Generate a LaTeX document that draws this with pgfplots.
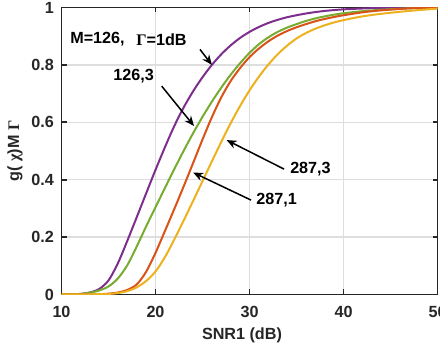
\documentclass[border=0pt]{standalone}
\usepackage{fontspec}
\setmainfont{Liberation Sans}
\newfontfamily\greekserif{Liberation Serif}
\usepackage{pgfplots}
\pgfplotsset{compat=1.18}
\usetikzlibrary{arrows.meta}

\definecolor{mpurple}{RGB}{126,47,142}
\definecolor{mgreen}{RGB}{119,172,48}
\definecolor{mred}{RGB}{217,83,25}
\definecolor{myellow}{RGB}{237,177,32}
\definecolor{maxis}{RGB}{38,38,38}
\definecolor{mgrid}{RGB}{222,222,222}

\begin{document}
\begin{tikzpicture}[font=\fontsize{9.7}{12}\selectfont\bfseries]
\path[use as bounding box] (-36.9pt,-33.9pt) rectangle (227.1pt,176.7pt);
\begin{axis}[
  scale only axis,
  width=225.6pt, height=172.2pt,
  xmin=10, xmax=50, ymin=0, ymax=1,
  xtick={10,20,30,40,50},
  ytick={0,0.2,0.4,0.6,0.8,1},
  /pgf/number format/assume math mode=true,
  ticklabel style={font=\fontsize{9.7}{12}\selectfont\bfseries, text=maxis},
  xticklabel style={yshift=-3.5pt},
  yticklabel style={xshift=-1pt},
  grid=major,
  major grid style={color=mgrid, line width=0.9pt},
  axis line style={color=maxis, line width=1pt},
  tick style={color=maxis, line width=1pt},
  tick align=inside,
  major tick length=3pt,
  xlabel={SNR1 (dB)},
  ylabel={g( {\greekserif χ})M {\greekserif Γ}},
  xlabel style={at={(axis description cs:0.48,-0.141)}, anchor=center, text=maxis},
  ylabel style={at={(axis description cs:-0.124,0.5)}, anchor=center, text=maxis},
  every axis plot/.append style={line width=1.2pt, smooth},
]
% M=126, Gamma=1 dB
\addplot[mpurple] coordinates {
 (10,0) (11,0.0005) (12,0.002) (13,0.007) (14,0.019) (15,0.049) (16,0.109)
 (17,0.187) (18,0.269) (19,0.352) (20,0.434) (21,0.513) (22,0.587)
 (23,0.652) (24,0.708) (25,0.757) (26,0.800) (27,0.837) (28,0.868)
 (29,0.894) (30,0.915) (31,0.932) (32,0.946) (33,0.957) (34,0.966)
 (35,0.973) (36,0.979) (37,0.984) (38,0.988) (39,0.991) (40,0.9935)
 (42,0.9965) (44,0.9983) (47,0.9995) (50,1)};
% M=126, Gamma=3 dB
\addplot[mgreen] coordinates {
 (10,0) (11,0.0008) (12,0.002) (13,0.006) (14,0.014) (15,0.028) (16,0.056)
 (17,0.102) (18,0.167) (19,0.237) (20,0.304) (21,0.371) (22,0.437)
 (23,0.501) (24,0.562) (25,0.619) (26,0.672) (27,0.721) (28,0.766)
 (29,0.806) (30,0.842) (31,0.872) (32,0.896) (33,0.915) (34,0.93)
 (35,0.942) (36,0.953) (37,0.962) (38,0.969) (39,0.975) (40,0.98)
 (42,0.987) (44,0.992) (47,0.997) (50,1)};
% M=287, Gamma=1 dB
\addplot[mred] coordinates {
 (10,0) (13,0.0003) (14,0.001) (15,0.003) (16,0.007) (17,0.016) (18,0.035)
 (19,0.079) (20,0.145) (21,0.221) (22,0.298) (23,0.377) (24,0.458)
 (25,0.54) (26,0.618) (27,0.687) (28,0.744) (29,0.789) (30,0.827)
 (31,0.857) (32,0.882) (33,0.902) (34,0.918) (35,0.931) (36,0.942)
 (37,0.952) (38,0.96) (39,0.967) (40,0.973) (42,0.983) (44,0.99)
 (47,0.997) (50,1)};
% M=287, Gamma=3 dB
\addplot[myellow] coordinates {
 (10,0) (14,0.001) (15,0.002) (16,0.005) (17,0.012) (18,0.025) (19,0.047)
 (20,0.08) (21,0.13) (22,0.192) (23,0.258) (24,0.326) (25,0.395)
 (26,0.464) (27,0.532) (28,0.597) (29,0.657) (30,0.711) (31,0.759)
 (32,0.801) (33,0.837) (34,0.867) (35,0.892) (36,0.911) (37,0.926)
 (38,0.938) (39,0.948) (40,0.956) (42,0.969) (44,0.978) (46,0.985)
 (48,0.991) (50,0.996)};

% annotations
\node[anchor=west, inner sep=0pt, text=black] at (axis cs:10.9,0.889) {M=126,};
\node[anchor=west, inner sep=0pt, text=black] at (axis cs:17.93,0.889) {{\greekserif Γ}=1dB};
\node[anchor=west, inner sep=0pt, text=black] at (axis cs:15.48,0.76) {126,3};
\node[anchor=west, inner sep=0pt, text=black] at (axis cs:34.3,0.437) {287,3};
\node[anchor=west, inner sep=0pt, text=black] at (axis cs:30.69,0.329) {287,1};

\begin{scope}[line width=0.9pt, -{Stealth[length=6pt,width=5pt]}]
\draw (axis cs:24.73,0.854) -- (axis cs:26.0,0.80);
\draw (axis cs:20.66,0.726) -- (axis cs:24.1,0.587);
\draw (axis cs:33.67,0.437) -- (axis cs:27.57,0.538);
\draw (axis cs:30.16,0.329) -- (axis cs:24.0,0.425);
\end{scope}
\end{axis}
\end{tikzpicture}
\end{document}
